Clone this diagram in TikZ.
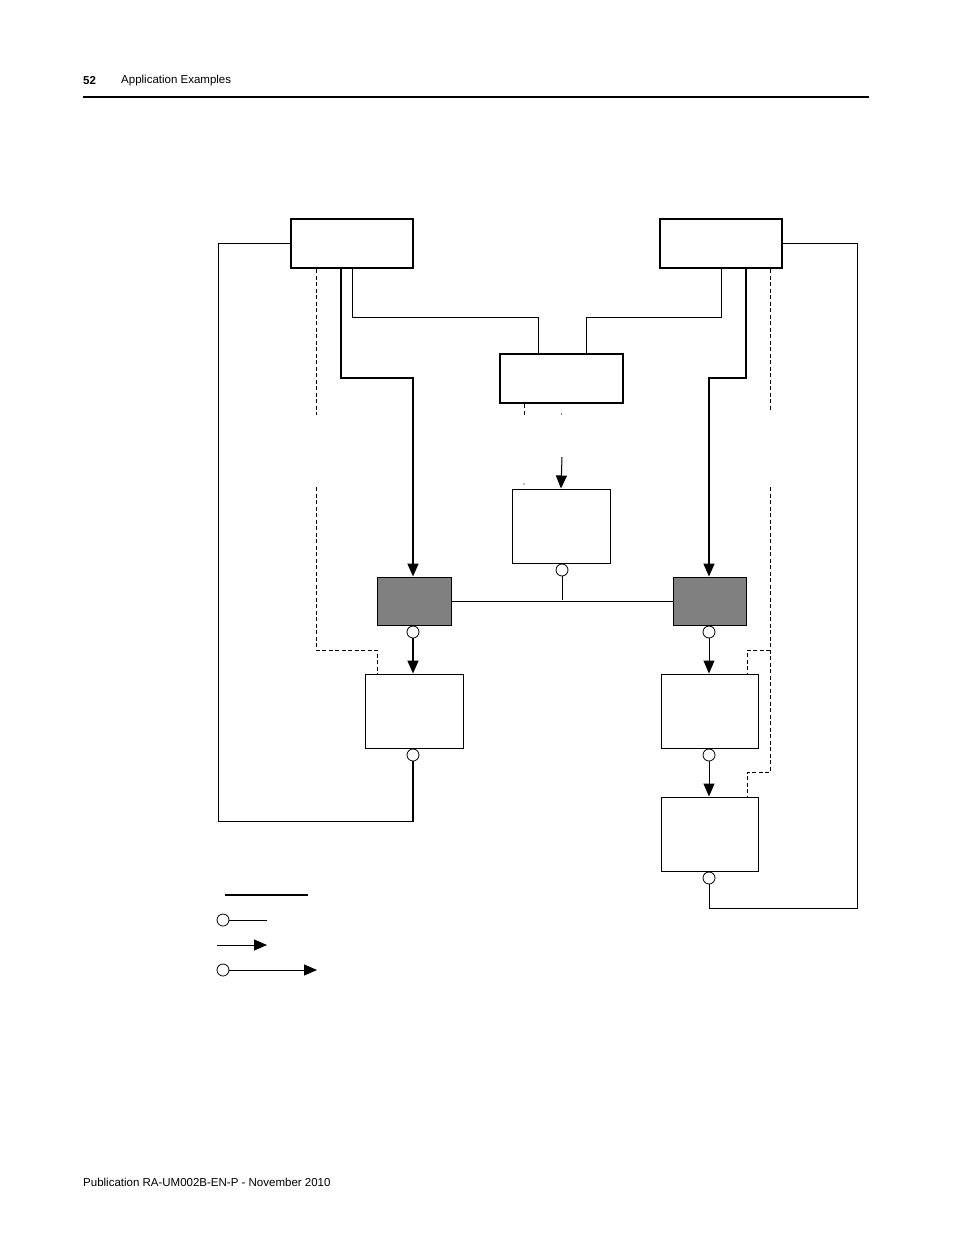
\documentclass[tikz,border=0pt]{standalone}
\usepackage{fontspec}
\setmainfont{Liberation Sans}
\usetikzlibrary{arrows.meta}
\begin{document}
\begin{tikzpicture}[x=1pt,y=-1pt,
  thickbox/.style={draw,line width=2pt,fill=white},
  thinbox/.style={draw,line width=1pt,fill=white},
  graybox/.style={draw,line width=1pt,fill=gray},
  ln/.style={line width=1pt},
  tln/.style={line width=1.6pt},
  dln/.style={line width=1pt,dash pattern=on 4pt off 2.5pt},
  arr/.style={-{Triangle[width=11pt,length=13pt]}},
  port/.style={circle,draw,line width=0.8pt,fill=white,inner sep=0pt,minimum size=12pt},
  txt/.style={font=\fontsize{11.5}{13}\selectfont,inner sep=0pt,anchor=west}]
\useasboundingbox (0,0) rectangle (954,1235);
% header/footer
\node[txt,font=\fontsize{11.5}{13}\selectfont\bfseries] (pg) at (83,81) {52};
\node[txt] (hd) at (121,81) {Application Examples};
\coordinate (r1) at (83,97); \coordinate (r2) at (869,97);
\draw[line width=2.5pt] (r1) -- (r2);
\node[txt] (ft) at (83,1182) {Publication RA-UM002B-EN-P - November 2010};
% boxes
\node[thickbox,minimum width=122pt,minimum height=49pt] (tl) at (352,243.5) {};
\node[thickbox,minimum width=122pt,minimum height=49pt] (tr) at (721,243.5) {};
\node[thickbox,minimum width=123pt,minimum height=49pt] (mid) at (561.5,378.5) {};
\node[thinbox,minimum width=98pt,minimum height=74pt] (c) at (561,526) {};
\node[graybox,minimum width=74pt,minimum height=48pt] (g1) at (414,601) {};
\node[graybox,minimum width=73pt,minimum height=48pt] (g2) at (709.5,601) {};
\node[thinbox,minimum width=98pt,minimum height=74pt] (l1) at (414,711) {};
\node[thinbox,minimum width=97pt,minimum height=74pt] (ra) at (709.5,711) {};
\node[thinbox,minimum width=97pt,minimum height=74pt] (rb) at (709.5,834) {};
% ports
\node[port] (pc) at (562,570) {};
\node[port] (pg1) at (413,632) {};
\node[port] (pg2) at (709,632) {};
\node[port] (pl1) at (413,755) {};
\node[port] (pra) at (709,755) {};
\node[port] (prb) at (709,878) {};
% left loop
\draw[ln] (tl.west |- 0,243) -- (218,243) -- (218,821) -- (412,821);
\draw[tln] (pl1) -- (413,821.5);
\draw[ln] (tl.south -| 352,0) -- (352,317) -- (538,317) -- (mid.north -| 538,0);
\draw[ln] (tr.south -| 721,0) -- (721,317) -- (586,317) -- (mid.north -| 586,0);
\draw[tln,arr] (tl.south -| 341,0) -- (341,378) -- (413,378) -- (g1.north -| 413,0);
\draw[tln,arr] (tr.south -| 746,0) -- (746,378) -- (709,378) -- (g2.north -| 709,0);
% dashed left
\draw[dln] (tl.south -| 316,0) -- (316,415);
\draw[dln] (316,487) -- (316,650) -- (377,650) -- (l1.north -| 377,0);
% dashed right
\draw[dln] (tr.south -| 770,0) -- (770,410);
\draw[dln] (770,487) -- (770,772) -- (747,772) -- (rb.north -| 747,0);
\draw[dln] (770,650) -- (747,650) -- (ra.north -| 747,0);
% mid dashes
\draw[dln] (mid.south -| 524,0) -- (524,415);
\fill (561.5,414) circle (0.6pt);
\fill (524,484) circle (0.6pt);
\coordinate (ca) at (562,457);
\draw[ln,arr] (ca) -- (c.north);
% bus
\draw[ln] (pc) -- (562,600);
\draw[ln] (g1.east) -- (g2.west);
% arrows between
\draw[tln,arr] (pg1) -- (l1.north -| pg1);
\draw[ln,arr] (pg2) -- (ra.north -| pg2);
\draw[ln,arr] (pra) -- (rb.north -| pra);
% right loop
\draw[ln] (prb) -- (709,908) -- (857,908) -- (857,243) -- (tr.east |- 0,243);
% legend
\coordinate (a1) at (225,895); \coordinate (a2) at (308,895);
\draw[line width=2pt] (a1) -- (a2);
\node[port] (lp1) at (223,920) {}; \coordinate (b2) at (267,920);
\draw[ln] (lp1) -- (b2);
\coordinate (c1) at (217,945); \coordinate (c2) at (267,945);
\draw[ln,arr] (c1) -- (c2);
\node[port] (lp2) at (223,970) {}; \coordinate (d2) at (317,970);
\draw[ln,arr] (lp2) -- (d2);
\end{tikzpicture}
\end{document}
